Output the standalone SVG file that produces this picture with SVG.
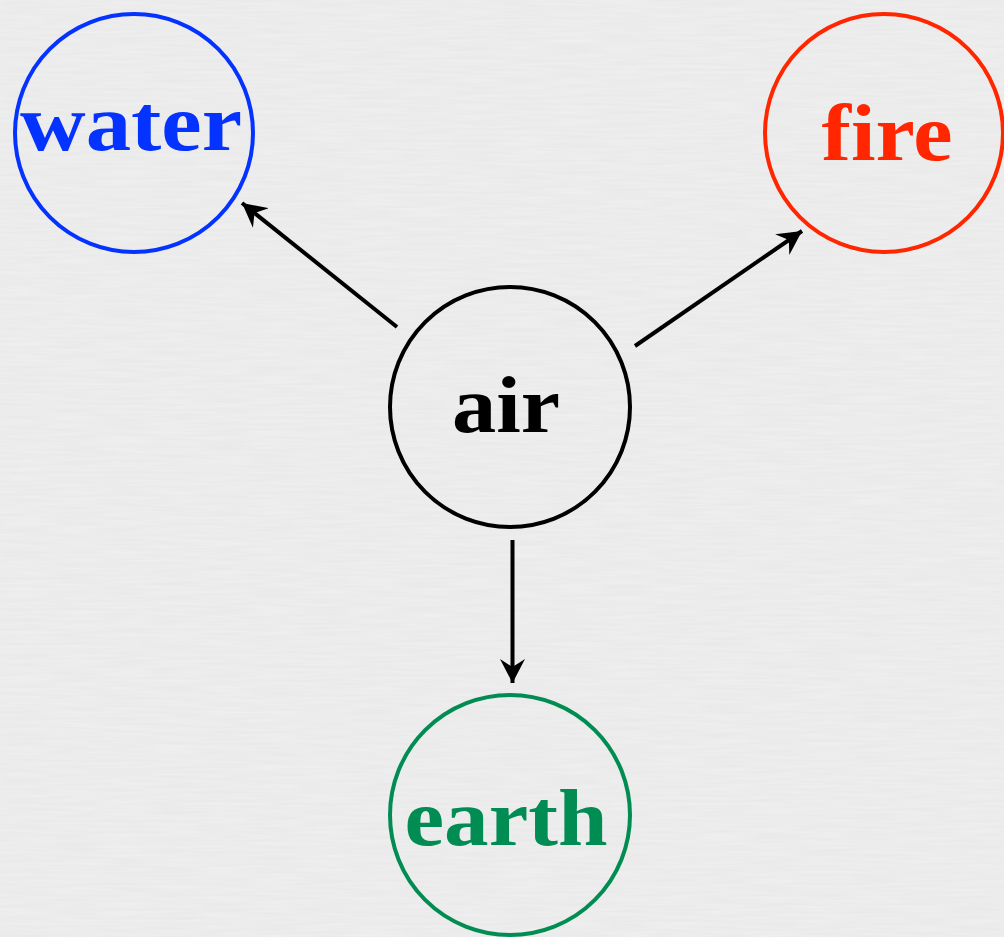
<svg xmlns="http://www.w3.org/2000/svg" width="1004" height="937" viewBox="0 0 1004 937">
  <style>
    .node { fill: none; stroke-width: 4; }
    .label { font-family: "Liberation Serif", "Times New Roman", serif; font-weight: bold; font-size: 80px; text-anchor: middle; }
    .edge { stroke: #000; stroke-width: 4; fill: none; marker-end: url(#arrow); }
  </style>
  <defs>
    <marker id="arrow" markerUnits="userSpaceOnUse" viewBox="-24 -13 26 26" refX="0" refY="0" markerWidth="26" markerHeight="26" orient="auto">
      <path d="M0,0 L-24,-12.5 L-16,0 L-24,12.5 Z" fill="#000"/>
    </marker>
    <filter id="paper" x="0" y="0" width="100%" height="100%">
      <feTurbulence type="fractalNoise" baseFrequency="0.02 0.35" numOctaves="2" seed="3" result="n"/>
      <feColorMatrix in="n" type="matrix" values="0 0 0 0 0  0 0 0 0 0  0 0 0 0 0  0 0 0 0.035 0"/>
    </filter>
  </defs>
  <rect width="1004" height="937" fill="#f0f0f0"/>
  <rect width="1004" height="937" filter="url(#paper)"/>

  <g id="connectors">
    <line class="edge" x1="397" y1="327" x2="242" y2="203"/>
    <line class="edge" x1="635" y1="346" x2="802" y2="231"/>
    <line class="edge" x1="512.5" y1="540" x2="512.5" y2="683"/>
  </g>

  <g id="water">
    <circle class="node" cx="134" cy="133" r="119" stroke="#0433FF"/>
    <text class="label" x="131" y="150" fill="#0433FF" textLength="222" lengthAdjust="spacingAndGlyphs">water</text>
  </g>
  <g id="fire">
    <circle class="node" cx="884" cy="133" r="119" stroke="#FF2600"/>
    <text class="label" x="887" y="160" fill="#FF2600" textLength="131" lengthAdjust="spacingAndGlyphs">fire</text>
  </g>
  <g id="air">
    <circle class="node" cx="510" cy="407" r="120" stroke="#000"/>
    <text class="label" x="506" y="432" fill="#000" textLength="108" lengthAdjust="spacingAndGlyphs">air</text>
  </g>
  <g id="earth">
    <circle class="node" cx="510" cy="815" r="120" stroke="#008C52"/>
    <text class="label" x="506" y="845" fill="#008C52" textLength="203" lengthAdjust="spacingAndGlyphs">earth</text>
  </g>
</svg>
